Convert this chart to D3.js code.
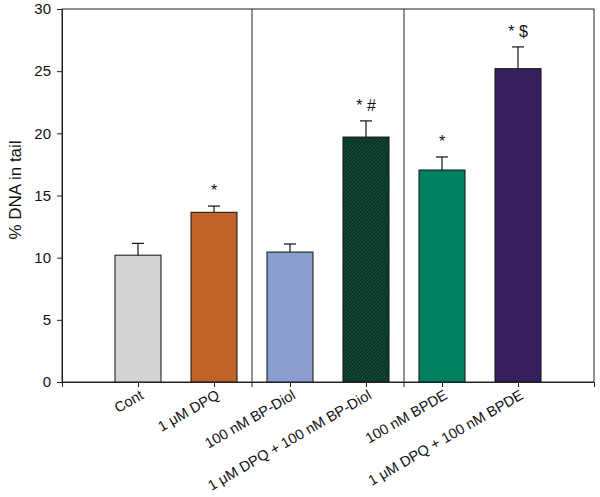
<!DOCTYPE html>
<html>
<head>
<meta charset="utf-8">
<script src="https://cdn.jsdelivr.net/npm/d3@7"></script>
<style>
  body { margin: 0; background: #fff; }
  svg { display: block; font-family: "Liberation Sans", Arial, sans-serif; }
</style>
</head>
<body>
<div id="chart"></div>
<script>
const categories = ['Cont', '1 μM DPQ', '100 nM BP-Diol', '1 μM DPQ + 100 nM BP-Diol', '100 nM BPDE', '1 μM DPQ + 100 nM BPDE'];
const means = [10.2, 13.65, 10.45, 19.7, 17.05, 25.2];
const errors = [0.95, 0.5, 0.65, 1.3, 1.05, 1.75];
const marks = ['', '*', '', '* #', '*', '* $'];
const colors = ['#d3d3d3', '#c0632b', '#8a9dcf', 'url(#hatch)', '#00805e', '#36205e'];
const separators = [2.5, 4.5];
const yTicks = [0, 5, 10, 15, 20, 25, 30];

const width = 600;
const height = 497;
const plot = { left: 62, right: 594, top: 9, bottom: 382 };

const svg = d3.select('#chart')
  .append('svg')
  .attr('width', width)
  .attr('height', height);

const defs = svg.append('defs');
const hatch = defs.append('pattern')
  .attr('id', 'hatch')
  .attr('patternUnits', 'userSpaceOnUse')
  .attr('width', 3.6)
  .attr('height', 3.6);
hatch.append('rect').attr('width', 3.6).attr('height', 3.6).attr('fill', '#0f4a36');
hatch.append('path')
  .attr('d', 'M-1,1 l2,-2 M0,3.6 l3.6,-3.6 M2.6,4.6 l2,-2')
  .attr('stroke', '#061610')
  .attr('stroke-width', 0.9);

const x = d3.scaleLinear().domain([0, 7]).range([plot.left, plot.right]);
const y = d3.scaleLinear().domain([0, 30]).range([plot.bottom, plot.top]);
const barW = 46;

// frame
svg.append('rect')
  .attr('x', plot.left).attr('y', plot.top)
  .attr('width', plot.right - plot.left).attr('height', plot.bottom - plot.top)
  .attr('fill', 'none').attr('stroke', '#222').attr('stroke-width', 1);

// separators
svg.selectAll('line.sep')
  .data(separators)
  .enter()
  .append('line')
  .attr('class', 'sep')
  .attr('x1', (d) => x(d)).attr('x2', (d) => x(d))
  .attr('y1', plot.top).attr('y2', plot.bottom + 5)
  .attr('stroke', '#222').attr('stroke-width', 1);

// bars
svg.selectAll('rect.bar')
  .data(means)
  .enter()
  .append('rect')
  .attr('class', 'bar')
  .attr('x', (d, i) => x(i + 1) - barW / 2)
  .attr('y', (d) => y(d))
  .attr('width', barW)
  .attr('height', (d) => y(0) - y(d))
  .attr('fill', (d, i) => colors[i])
  .attr('stroke', '#111')
  .attr('stroke-width', 1);

// error bars
const eb = svg.selectAll('g.err')
  .data(means)
  .enter()
  .append('g')
  .attr('class', 'err')
  .attr('stroke', '#111')
  .attr('stroke-width', 1.2);
eb.append('line')
  .attr('x1', (d, i) => x(i + 1)).attr('x2', (d, i) => x(i + 1))
  .attr('y1', (d) => y(d)).attr('y2', (d, i) => y(d + errors[i]));
eb.append('line')
  .attr('x1', (d, i) => x(i + 1) - 6).attr('x2', (d, i) => x(i + 1) + 6)
  .attr('y1', (d, i) => y(d + errors[i])).attr('y2', (d, i) => y(d + errors[i]));

// significance marks
svg.selectAll('text.mark')
  .data(means)
  .enter()
  .append('text')
  .attr('class', 'mark')
  .attr('x', (d, i) => x(i + 1))
  .attr('y', (d, i) => y(d + errors[i]) - 10)
  .attr('text-anchor', 'middle')
  .attr('font-size', '16px')
  .attr('fill', '#111')
  .text((d, i) => marks[i]);

// y axis
const yAxis = svg.append('g')
  .attr('transform', `translate(${plot.left},0)`)
  .call(d3.axisLeft(y).tickValues(yTicks).tickSize(5).tickPadding(6));
yAxis.attr('font-size', null);
yAxis.selectAll('text').attr('font-size', '15px').attr('fill', '#111');
yAxis.selectAll('line, path').attr('stroke', '#222');

// x axis
const xAxis = svg.append('g')
  .attr('transform', `translate(0,${plot.bottom})`)
  .call(d3.axisBottom(x).tickValues(d3.range(1, 7)).tickSize(5).tickFormat((d) => categories[d - 1]));
xAxis.attr('font-size', null);
xAxis.select('.domain').attr('stroke', '#222');
xAxis.selectAll('line').attr('stroke', '#222');
xAxis.selectAll('text')
  .attr('font-size', '14.5px')
  .attr('fill', '#111')
  .attr('text-anchor', 'end')
  .attr('dy', '0')
  .attr('transform', 'translate(2,9) rotate(-30)');

// y label
svg.append('text')
  .attr('transform', `translate(21,190) rotate(-90)`)
  .attr('text-anchor', 'middle')
  .attr('font-size', '17px')
  .attr('fill', '#111')
  .text('% DNA in tail');
</script>
</body>
</html>
